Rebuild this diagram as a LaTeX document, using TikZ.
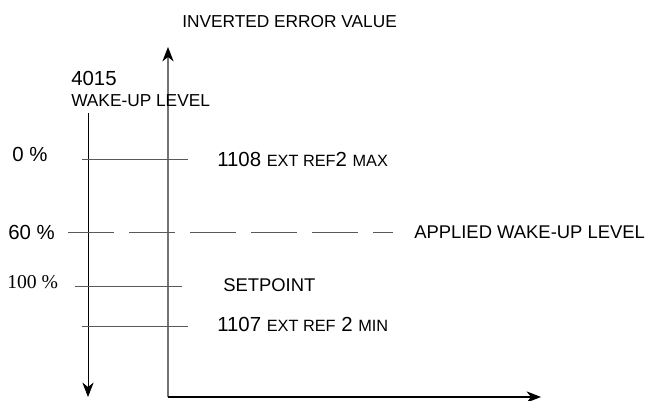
\documentclass[tikz,border=0pt]{standalone}
\usepackage{fontspec}
\setmainfont{Liberation Sans}
\newfontfamily\serifnum{Liberation Serif}
\usetikzlibrary{arrows.meta}
\newcommand{\smcap}[1]{{\fontsize{11.6}{13}\selectfont #1}}

\begin{document}
\begin{tikzpicture}[every node/.style={inner sep=0pt, anchor=base west},
  word/.style={font=\fontsize{13.1}{15}\selectfont},
  smallword/.style={font=\fontsize{12.3}{14}\selectfont},
  num/.style={font=\fontsize{14.5}{17}\selectfont},
  axis/.style={-{Stealth[length=3.6mm, width=2.8mm, inset=1.1mm, black]}, line width=0.8pt},
  level/.style={black!65, line width=0.6pt}]
  \useasboundingbox (0,0) rectangle (16.225,10.025);
  % axes
  \coordinate (origin) at (4.2,0.1);
  \coordinate (ytip) at (4.2,8.85);
  \coordinate (xtip) at (13.525,0.1);
  \coordinate (wtop) at (2.2,7.2);
  \coordinate (wbot) at (2.2,0.1);
  \draw[axis, black!55] (origin) -- (ytip);
  \draw[axis] (origin) -- (xtip);
  \draw[axis, line width=0.6pt] (wtop) -- (wbot);
  % levels
  \coordinate (maxl) at (2.05,6.05);  \coordinate (maxr) at (4.7,6.05);
  \coordinate (appl) at (1.7,4.225);  \coordinate (appr) at (9.825,4.225);
  \coordinate (spl) at (1.875,2.875); \coordinate (spr) at (4.55,2.875);
  \coordinate (minl) at (2.05,1.875); \coordinate (minr) at (4.7,1.875);
  \draw[level] (maxl) -- (maxr);
  \draw[level, dash pattern=on 1.15cm off 0.375cm] (appl) -- (appr);
  \draw[level] (spl) -- (spr);
  \draw[level] (minl) -- (minr);
  % labels
  \node[smallword] (title) at (4.55,9.325) {INVERTED ERROR VALUE};
  \node[num] (par) at (1.775,7.875) {4015};
  \node[smallword] (wake) at (1.775,7.35) {WAKE-UP LEVEL};
  \node[num] (p0) at (0.3,5.975) {0 \%};
  \node[num] (p60) at (0.2,4.025) {60 \%};
  \node[num, font=\fontsize{14}{17}\serifnum] (p100) at (0.175,2.8) {100 \%};
  \node[num] (maxlbl) at (5.425,5.85) {1108 \smcap{EXT REF}2 \smcap{MAX}};
  \node[word] (applbl) at (10.35,4.05) {APPLIED WAKE-UP LEVEL};
  \node[word] (splbl) at (5.575,2.725) {SETPOINT};
  \node[num] (minlbl) at (5.425,1.725) {1107 \smcap{EXT REF} 2 \smcap{MIN}};
\end{tikzpicture}
\end{document}
